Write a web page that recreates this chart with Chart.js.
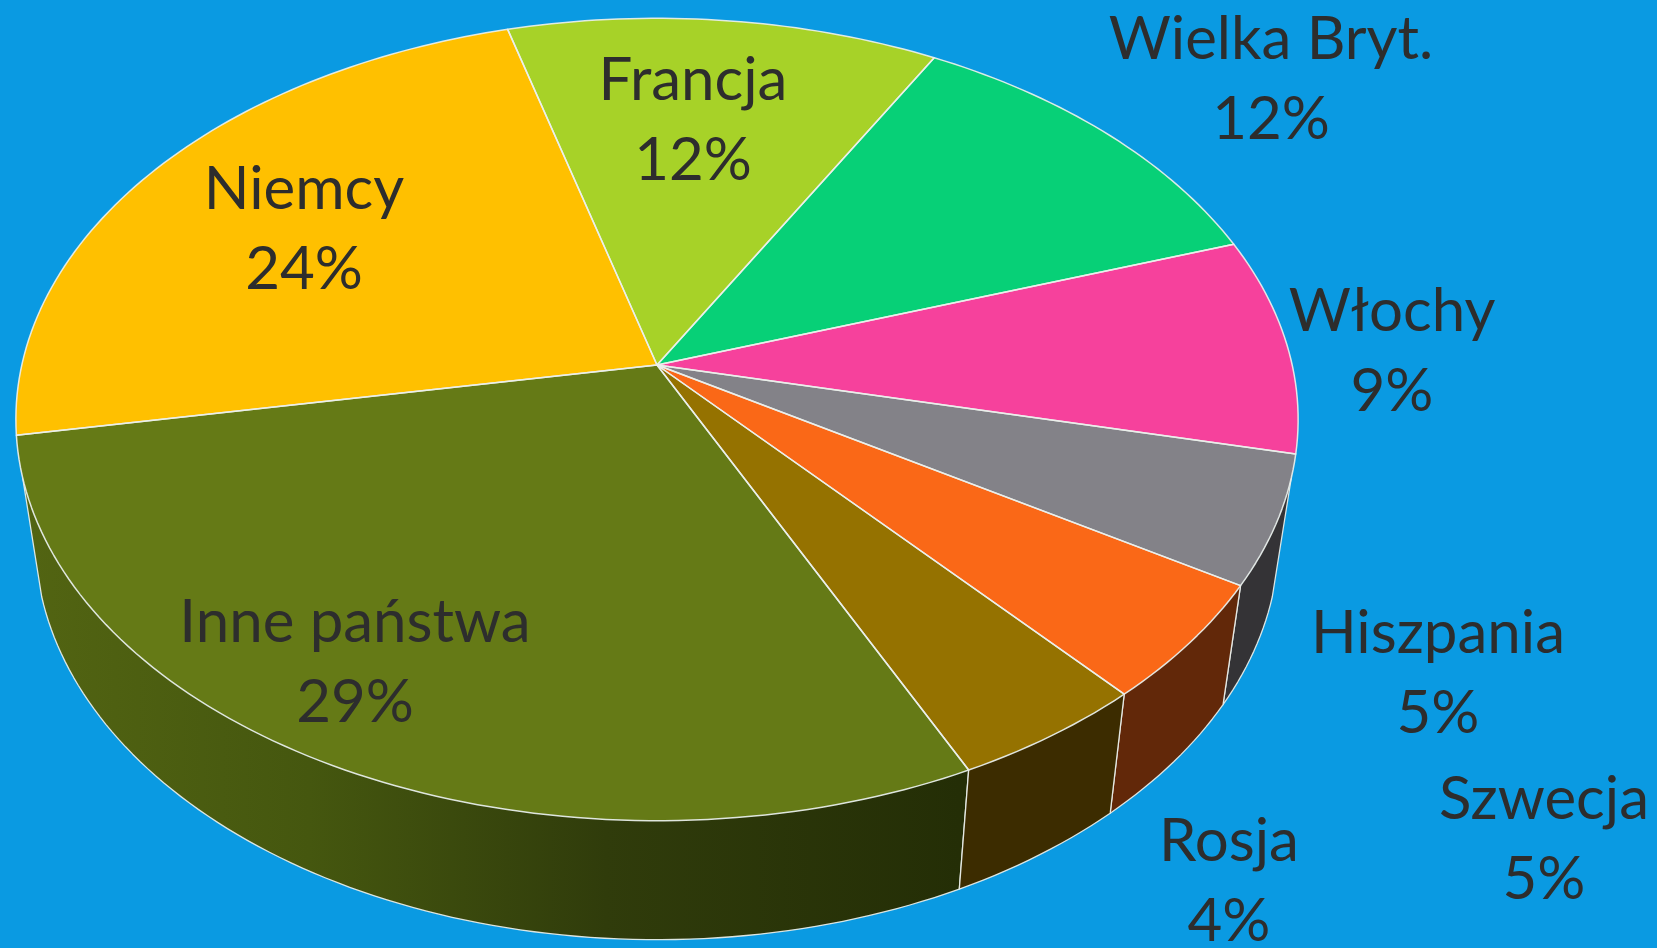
<!DOCTYPE html>
<html><head><meta charset="utf-8">
<style>html,body{margin:0;padding:0;background:#0a9ae2;overflow:hidden}canvas{display:block}</style>
<script src="https://cdn.jsdelivr.net/npm/chart.js@4"></script></head>
<body><canvas id="c" width="1657" height="948"></canvas>
<script>
const categories = ['Inne państwa','Niemcy','Francja','Wielka Bryt.','Włochy','Hiszpania','Szwecja','Rosja'];
const shares = [29.3,23.5,12.4,11.7,8.7,5.2,4.8,4.4];
const shareLabels = ['29%','24%','12%','12%','9%','5%','5%','4%'];
const topColors = ['#657a16','#ffc000','#a7d228','#07d077','#f6419c','#838288','#fa6817','#957200'];
const sideColors = ['#3a4a0c','#806000','#536914','#03683b','#7b204e','#343336','#622809','#3c2c00'];
const labelCentres = [[355,623],[304,190],[693,81],[1271,40],[1392,312],[1438,634],[1544,800],[1229,842]];
const pctOffset = 80;
const FONT = 'Lato';
const P = 0.1358, KX = 636.5/365, KY = 394.6/365, DEPTH = 119, SHRINK = 0.97, EDGE = 'rgba(235,240,235,0.92)';
const WALL_LO = 16*Math.PI/180, WALL_HI = 164*Math.PI/180;

function project(el, a){
  const x = Math.cos(a), y = Math.sin(a), w = 1 - P*y, r = el.outerRadius;
  return [el.x + KX*r*x/w, el.y + KY*r*y/w];
}
function lower(el, p){ return [el.x + (p[0]-el.x)*SHRINK, p[1] + DEPTH]; }
function sample(el, a0, a1){
  const pts = [], n = Math.max(2, Math.ceil((a1-a0)/0.02));
  for(let i=0;i<=n;i++) pts.push(project(el, a0 + (a1-a0)*i/n));
  return pts;
}
function wallRange(el){
  for(const off of [0,-2*Math.PI]){
    const s = Math.max(el.startAngle+off, WALL_LO), e = Math.min(el.endAngle+off, WALL_HI);
    if(e > s) return [s,e];
  }
  return null;
}
const pie3d = {
  id:'pie3d',
  beforeDatasetDraw(chart, args){
    const {ctx} = chart, arcs = args.meta.data;
    arcs.forEach((el,i)=>{
      const range = wallRange(el);
      if(!range) return;
      const pts = sample(el,range[0],range[1]), low = pts.map(p=>lower(el,p));
      ctx.beginPath();
      pts.forEach((p,k)=>k?ctx.lineTo(p[0],p[1]):ctx.moveTo(p[0],p[1]));
      low.slice().reverse().forEach(p=>ctx.lineTo(p[0],p[1]));
      ctx.closePath();
      if(i===0){
        const g = ctx.createLinearGradient(30,0,960,0);
        g.addColorStop(0,'#526412'); g.addColorStop(0.3,'#45570f'); g.addColorStop(0.62,'#303c0b'); g.addColorStop(1,'#242e06');
        ctx.fillStyle = g;
      } else ctx.fillStyle = sideColors[i];
      ctx.fill();
      ctx.strokeStyle = EDGE; ctx.lineWidth = 1.3; ctx.lineJoin='round';
      ctx.beginPath();
      ctx.moveTo(pts[0][0],pts[0][1]); ctx.lineTo(low[0][0],low[0][1]);
      low.forEach(p=>ctx.lineTo(p[0],p[1]));
      ctx.lineTo(pts[pts.length-1][0],pts[pts.length-1][1]);
      ctx.stroke();
    });
    arcs.forEach((el,i)=>{
      const pts = sample(el,el.startAngle,el.endAngle);
      ctx.beginPath(); ctx.moveTo(el.x,el.y);
      pts.forEach(p=>ctx.lineTo(p[0],p[1]));
      ctx.closePath();
      ctx.fillStyle = topColors[i]; ctx.fill();
    });
    arcs.forEach((el)=>{
      const pts = sample(el,el.startAngle,el.endAngle);
      ctx.beginPath(); ctx.moveTo(el.x,el.y);
      pts.forEach(p=>ctx.lineTo(p[0],p[1]));
      ctx.closePath();
      ctx.strokeStyle = EDGE; ctx.lineWidth = 1.5; ctx.stroke();
    });
    return false;
  },
  afterDatasetsDraw(chart){
    const {ctx} = chart;
    ctx.save();
    ctx.fillStyle = '#2d2d2d'; ctx.textAlign='center'; ctx.textBaseline='middle';
    categories.forEach((name,i)=>{
      const [x,y] = labelCentres[i];
      ctx.font = `60px ${FONT}`;
      ctx.fillText(name,x,y);
      ctx.fillText(shareLabels[i],x,y+pctOffset);
    });
    ctx.restore();
  }
};
new Chart(document.getElementById('c'),{
  type:'pie',
  data:{labels:categories,datasets:[{data:shares,backgroundColor:topColors,borderColor:'#eef2ee',borderWidth:1.5}]},
  options:{
    responsive:false,animation:false,rotation:154.5,
    layout:{padding:{left:0,top:0,right:343,bottom:218}},
    plugins:{legend:{display:false},tooltip:{enabled:false},title:{display:false}}
  },
  plugins:[pie3d]
});
</script></body></html>
